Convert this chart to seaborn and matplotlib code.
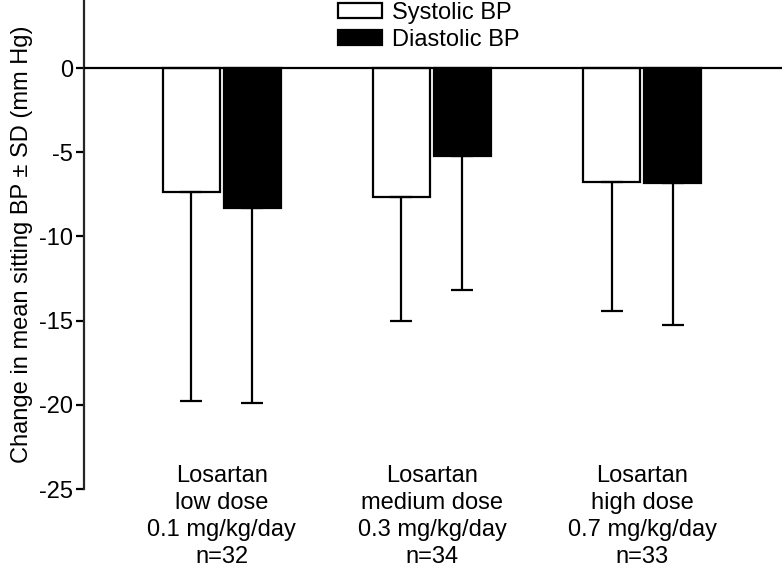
import pandas as pd
import matplotlib
matplotlib.use('Agg')
import matplotlib.pyplot as plt
import seaborn as sns

# data
groups = ['Losartan\nlow dose\n0.1 mg/kg/day\nn=32',
          'Losartan\nmedium dose\n0.3 mg/kg/day\nn=34',
          'Losartan\nhigh dose\n0.7 mg/kg/day\nn=33']
series = ['Systolic BP', 'Diastolic BP']
systolic_mean = [-7.35, -7.65, -6.75]
systolic_sd = [12.4, 7.4, 7.7]
diastolic_mean = [-8.3, -5.2, -6.8]
diastolic_sd = [11.6, 8.0, 8.45]
yticks = [0, -5, -10, -15, -20, -25]

df = pd.DataFrame({
    'group': groups * 2,
    'series': [series[0]] * 3 + [series[1]] * 3,
    'value': systolic_mean + diastolic_mean,
})

sns.set_style('ticks')
plt.rcParams['font.family'] = ['Liberation Sans', 'DejaVu Sans']
plt.rcParams['text.color'] = 'black'
plt.rcParams['axes.labelcolor'] = 'black'
plt.rcParams['xtick.color'] = 'black'
plt.rcParams['ytick.color'] = 'black'
FS = 17

fig = plt.figure(figsize=(7.83, 5.69), dpi=100)
ax = fig.add_axes([84 / 783, 1 - 489 / 569, (782 - 84) / 783, 489 / 569])

sns.barplot(data=df, x='group', y='value', hue='series', order=groups,
            hue_order=series, palette={'Systolic BP': 'white', 'Diastolic BP': 'black'},
            edgecolor='black', linewidth=1.6, width=0.58, gap=0.07,
            errorbar=None, ax=ax)

# one-sided SD bars, hanging below each bar
for cont, sds in zip(ax.containers, [systolic_sd, diastolic_sd]):
    for bar, sd in zip(cont, sds):
        xc = bar.get_x() + bar.get_width() / 2
        y = bar.get_y() + bar.get_height()
        ax.errorbar(xc, y, yerr=[[sd], [0]], fmt='none', ecolor='black',
                    elinewidth=1.6, capsize=8, capthick=1.6)

ax.axhline(0, color='black', lw=1.6, zorder=5)
ax.set_ylim(-25, 4.04)
ax.set_xlim(-0.655, 2.665)
ax.set_yticks(yticks)
ax.set_yticklabels([str(t) for t in yticks], fontsize=FS)
ax.set_ylabel('Change in mean sitting BP ± SD (mm Hg)', fontsize=FS, labelpad=4)
ax.set_xlabel('')
ax.tick_params(axis='y', length=6, width=1.6, pad=2)
ax.tick_params(axis='x', length=0, pad=-17, labelsize=FS)
for lbl in ax.get_xticklabels():
    lbl.set_linespacing(1.28)

for s in ['top', 'right', 'bottom']:
    ax.spines[s].set_visible(False)
ax.spines['left'].set_linewidth(1.6)
ax.spines['left'].set_bounds(-25, 4.04)

handles, labels = ax.get_legend_handles_labels()
ax.legend(handles, labels, loc='upper left', bbox_to_anchor=((338 - 84) / 698, 0.996),
          frameon=False, fontsize=FS, borderpad=0, borderaxespad=0,
          handlelength=1.85, handleheight=0.6, handletextpad=0.45,
          labelspacing=0.2)

fig.savefig('out.png', dpi=100)
